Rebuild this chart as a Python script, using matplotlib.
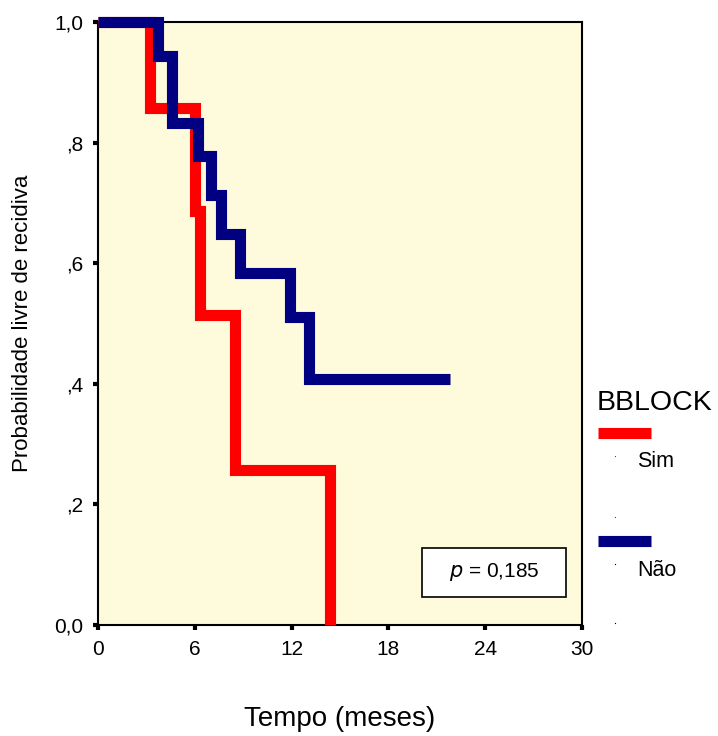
import matplotlib
matplotlib.use("Agg")
import matplotlib.pyplot as plt
from matplotlib.lines import Line2D
from matplotlib.patches import Rectangle

plt.rcParams["font.family"] = ["Liberation Sans", "DejaVu Sans"]

# Kaplan-Meier steps: time of each drop and survival after it
sim_times = [0.0, 3.2, 6.0, 6.3, 8.5, 14.4]
sim_surv = [1.0, 0.857, 0.686, 0.514, 0.257, 0.0]

nao_times = [0.0, 3.7, 4.6, 6.2, 7.0, 7.6, 8.8, 11.9, 13.1]
nao_surv = [1.0, 0.944, 0.833, 0.778, 0.713, 0.648, 0.583, 0.510, 0.408]
nao_end = 21.8

group_labels = ["Sim", "Não"]
group_colors = ["#ff0000", "#000080"]
xticks = [0, 6, 12, 18, 24, 30]
yticks = [0.0, 0.2, 0.4, 0.6, 0.8, 1.0]
ytick_labels = ["0,0", ",2", ",4", ",6", ",8", "1,0"]
p_text = "$\\it{p}$ = 0,185"

W, H = 718, 736
fig = plt.figure(figsize=(W / 100, H / 100), dpi=100)
ax = fig.add_axes([98 / W, 1 - 625 / H, (582 - 98) / W, (625 - 22) / H])
ax.set_facecolor("#fefadc")


def km_path(times, surv, end=None):
    xs, ys = [times[0]], [surv[0]]
    for t, s in zip(times[1:], surv[1:]):
        xs += [t, t]
        ys += [ys[-1], s]
    if end is not None:
        xs.append(end)
        ys.append(ys[-1])
    return xs, ys


lw = 8
x, y = km_path(sim_times, sim_surv)
ax.plot(x, y, color=group_colors[0], lw=lw, solid_joinstyle="miter",
        solid_capstyle="butt", clip_on=False, zorder=3)
x, y = km_path(nao_times, nao_surv, nao_end)
ax.plot(x, y, color=group_colors[1], lw=lw, solid_joinstyle="miter",
        solid_capstyle="butt", clip_on=False, zorder=4)

ax.set_xlim(0, 30)
ax.set_ylim(0, 1)
ax.set_xticks(xticks)
ax.set_yticks(yticks)
ax.set_yticklabels(ytick_labels)
ax.tick_params(direction="out", length=3.5, width=3, labelsize=15, pad=7)
for sp in ax.spines.values():
    sp.set_linewidth(1.5)
    sp.set_color("black")

ax.set_xlabel("Tempo (meses)", fontsize=20)
ax.xaxis.set_label_coords(0.5, -0.134)
ax.set_ylabel("Probabilidade livre de recidiva", fontsize=16)
ax.yaxis.set_label_coords(-0.135, 0.5)

# p-value box
ax.add_patch(Rectangle((0.670, 0.047), 0.297, 0.081, transform=ax.transAxes,
                       facecolor="white", edgecolor="black", lw=1.2, zorder=5))
ax.text(0.8185, 0.0875, p_text, transform=ax.transAxes, ha="center",
        va="center", fontsize=15, zorder=6)

# legend drawn in figure pixel coordinates
tf = fig.transFigure
fig.text(597 / W, 1 - 403 / H, "BBLOCK", fontsize=20.5, ha="left", va="center")
for i, (lab, col) in enumerate(zip(group_labels, group_colors)):
    yl = 433 + i * 108
    fig.add_artist(Line2D([598 / W, 651 / W], [1 - yl / H, 1 - yl / H],
                          color=col, lw=8, solid_capstyle="butt", transform=tf))
    fig.text(637 / W, 1 - (yl + 29) / H, lab, fontsize=15.5, ha="left", va="center")
    for dy in (23, 84 if i == 0 else 82):
        fig.add_artist(Line2D([615 / W], [1 - (yl + dy) / H], marker="s",
                              ms=0.8, mew=0, color=col if i == 0 else "black",
                              transform=tf))

fig.savefig("out.png", dpi=100)
